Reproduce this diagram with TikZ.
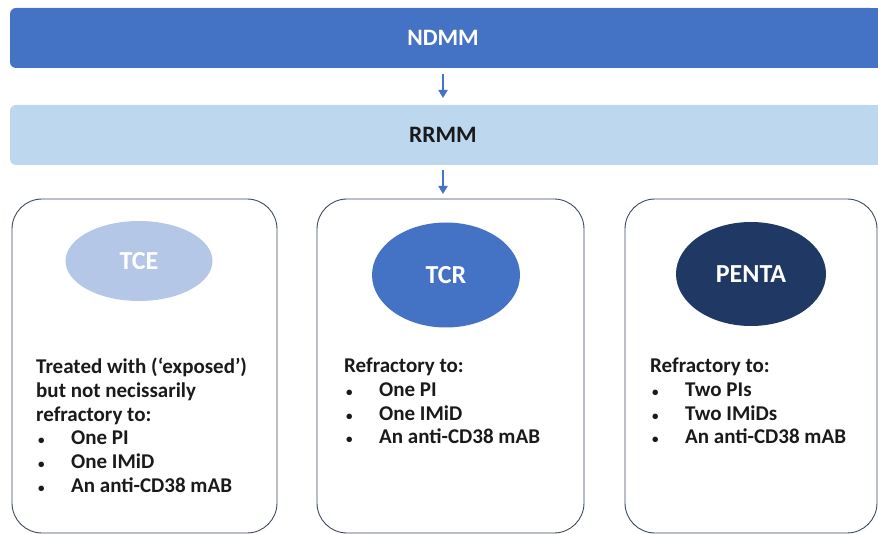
\documentclass[tikz,border=0pt]{standalone}
\usepackage{fontspec}
\setmainfont{Carlito}
\usetikzlibrary{shapes.geometric,arrows.meta}
\definecolor{cblue}{HTML}{4472C4}
\definecolor{clight}{HTML}{BDD7EE}
\definecolor{ctce}{HTML}{B4C7E7}
\definecolor{cpenta}{HTML}{203864}
\definecolor{cborder}{HTML}{3B4A5E}
\definecolor{ctext}{HTML}{1A1A1A}
\tikzset{
  bar/.style={rounded corners=6pt, minimum height=60pt, minimum width=866pt, inner sep=0pt, font=\bfseries\fontsize{23.5}{26}\selectfont},
  card/.style={draw=cborder, line width=0.9pt, rounded corners=30pt, inner sep=0pt},
  blob/.style={ellipse, inner sep=0pt, text=white, font=\bfseries\fontsize{26}{30}\selectfont},
  flow/.style={draw=cblue, line width=2.2pt, -{Triangle[length=8pt,width=9pt]}},
  body/.style={anchor=north west, align=left, inner sep=0pt, text=ctext, font=\bfseries\fontsize{21}{23.7}\selectfont},
}
\newcommand{\itm}[1]{\makebox[35pt][l]{\hspace{2pt}{\fontsize{13}{13}\selectfont •}}#1}
\begin{document}
\begin{tikzpicture}[x=1pt,y=-1pt]
\useasboundingbox (0,0) rectangle (878,534);
\clip (0,0) rectangle (878,534);
% bars
\fill[cblue] (860,8) rectangle (890,68);
\node[bar, fill=cblue, text=white] (ndmm) at (443,38) {NDMM};
\fill[clight] (860,105) rectangle (890,165);
\node[bar, fill=clight, text=ctext] (rrmm) at (443,135) {RRMM};
% cards
\node[card, minimum width=265pt, minimum height=334pt] (c1) at (144.5,366) {};
\node[card, minimum width=267pt, minimum height=334pt] (c2) at (450.5,366) {};
\node[card, minimum width=252pt, minimum height=334pt] (c3) at (751,366) {};
% arrows
\coordinate (a1s) at (443,74);
\coordinate (a1e) at (443,98);
\coordinate (a2s) at (443,170);
\coordinate (a2e) at (443,194);
\draw[flow] (a1s) -- (a1e);
\draw[flow] (a2s) -- (a2e);
% ellipses
\node[blob, fill=ctce, minimum width=147pt, minimum height=80pt] (tce) at (139,261) {TCE};
\node[blob, fill=cblue, minimum width=148pt, minimum height=105pt] (tcr) at (446,275) {TCR};
\node[blob, fill=cpenta, minimum width=150pt, minimum height=104pt] (penta) at (751,274) {PENTA};
% texts
\node[body] (t1) at (36,358) {Treated with (‘exposed’)\\but not necissarily\\refractory to:\\\itm{One PI}\\\itm{One IMiD}\\\itm{An anti-CD38 mAB}};
\node[body] (t2) at (344,358) {Refractory to:\\\itm{One PI}\\\itm{One IMiD}\\\itm{An anti-CD38 mAB}};
\node[body] (t3) at (650,358) {Refractory to:\\\itm{Two PIs}\\\itm{Two IMiDs}\\\itm{An anti-CD38 mAB}};
\end{tikzpicture}
\end{document}
